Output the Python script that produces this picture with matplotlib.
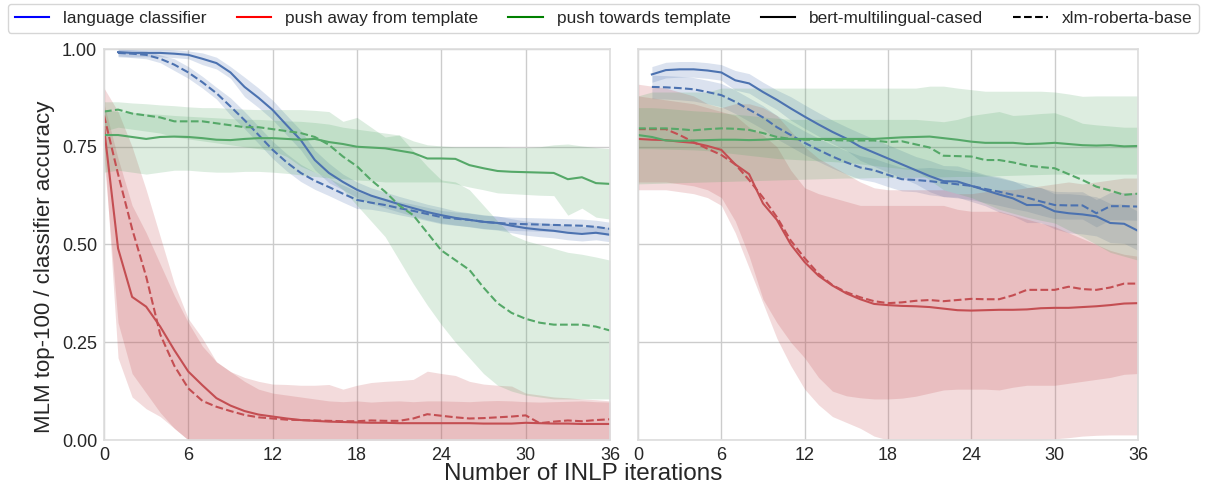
import numpy as np
import matplotlib
matplotlib.use("Agg")
import matplotlib.pyplot as plt
from matplotlib.lines import Line2D

plt.rcParams['font.family'] = ['Liberation Sans', 'DejaVu Sans']

# ---------------- data ----------------
x_all = list(range(0, 37))
x_blue = list(range(1, 37))
xticks = [0, 6, 12, 18, 24, 30, 36]
yticks = [0.0, 0.25, 0.5, 0.75, 1.0]
legend_labels = ["language classifier", "push away from template", "push towards template",
                 "bert-multilingual-cased", "xlm-roberta-base"]

# LEFT panel
L_blue_bert = [0.992, 0.99, 0.99, 0.99, 0.988, 0.985, 0.975, 0.964, 0.94, 0.903, 0.875, 0.844,
               0.805, 0.767, 0.716, 0.683, 0.66, 0.64, 0.625, 0.614, 0.603, 0.593, 0.583, 0.575,
               0.568, 0.563, 0.558, 0.555, 0.548, 0.542, 0.538, 0.535, 0.53, 0.527, 0.53, 0.525]
L_blue_bert_hw = [0.01] * 6 + [0.015] * 3 + [0.025] * 7 + [0.02] * 8 + [0.018] * 12
L_blue_xlm = [0.99, 0.988, 0.985, 0.975, 0.96, 0.94, 0.915, 0.887, 0.853, 0.818, 0.78, 0.742,
              0.71, 0.683, 0.663, 0.647, 0.63, 0.614, 0.607, 0.601, 0.593, 0.586, 0.578, 0.57,
              0.566, 0.563, 0.558, 0.555, 0.553, 0.552, 0.551, 0.55, 0.549, 0.548, 0.545, 0.54]
L_blue_xlm_hw = [0.01] * 4 + [0.015] * 4 + [0.022] * 10 + [0.017] * 18

L_green_bert = [0.78, 0.78, 0.775, 0.77, 0.775, 0.776, 0.775, 0.772, 0.768, 0.767, 0.77, 0.772,
                0.772, 0.77, 0.768, 0.77, 0.762, 0.757, 0.75, 0.748, 0.746, 0.74, 0.734, 0.72,
                0.72, 0.719, 0.703, 0.695, 0.688, 0.686, 0.685, 0.684, 0.683, 0.667, 0.672, 0.657, 0.655]
L_green_bert_lo = [0.685, 0.69, 0.685, 0.68, 0.685, 0.69, 0.69, 0.687, 0.685, 0.685, 0.687, 0.687,
                   0.685, 0.682, 0.678, 0.674, 0.67, 0.668, 0.665, 0.663, 0.66, 0.66, 0.66, 0.66,
                   0.66, 0.655, 0.647, 0.64, 0.632, 0.63, 0.628, 0.626, 0.625, 0.575, 0.593, 0.57, 0.565]
L_green_bert_hi = [0.845, 0.84, 0.838, 0.835, 0.833, 0.83, 0.828, 0.826, 0.824, 0.822, 0.82, 0.82,
                   0.818, 0.816, 0.815, 0.812, 0.808, 0.80, 0.795, 0.79, 0.785, 0.78, 0.765, 0.755,
                   0.752, 0.75, 0.75, 0.75, 0.75, 0.748, 0.748, 0.75, 0.755, 0.757, 0.752, 0.748, 0.745]
L_green_xlm = [0.84, 0.845, 0.835, 0.83, 0.825, 0.815, 0.815, 0.815, 0.81, 0.805, 0.80, 0.80,
               0.795, 0.79, 0.785, 0.775, 0.755, 0.725, 0.70, 0.665, 0.635, 0.60, 0.575, 0.53,
               0.485, 0.46, 0.435, 0.39, 0.35, 0.325, 0.31, 0.30, 0.295, 0.295, 0.295, 0.29, 0.28]
L_green_xlm_lo = [0.79, 0.80, 0.795, 0.79, 0.785, 0.775, 0.77, 0.765, 0.76, 0.755, 0.75, 0.745,
                  0.74, 0.725, 0.70, 0.685, 0.67, 0.64, 0.60, 0.56, 0.52, 0.46, 0.40, 0.345,
                  0.295, 0.25, 0.21, 0.17, 0.14, 0.125, 0.115, 0.11, 0.105, 0.105, 0.105, 0.105, 0.105]
L_green_xlm_hi = [0.865, 0.865, 0.862, 0.86, 0.857, 0.855, 0.852, 0.85, 0.85, 0.848, 0.846, 0.845,
                  0.845, 0.845, 0.845, 0.843, 0.84, 0.815, 0.825, 0.80, 0.775, 0.78, 0.74, 0.70,
                  0.665, 0.66, 0.64, 0.60, 0.56, 0.525, 0.51, 0.50, 0.49, 0.48, 0.475, 0.468, 0.46]

L_red_bert = [0.80, 0.49, 0.366, 0.341, 0.29, 0.23, 0.175, 0.14, 0.107, 0.088, 0.074, 0.065,
              0.06, 0.055, 0.051, 0.049, 0.047, 0.046, 0.045, 0.044, 0.044, 0.043, 0.043, 0.043,
              0.043, 0.043, 0.043, 0.042, 0.042, 0.042, 0.044, 0.043, 0.042, 0.042, 0.041, 0.041, 0.041]
L_red_bert_lo = [0.72, 0.30, 0.17, 0.12, 0.07, 0.03] + [0.0] * 31
L_red_bert_hi = [0.86, 0.72, 0.60, 0.53, 0.45, 0.37, 0.30, 0.24, 0.20, 0.175, 0.15, 0.13,
                 0.12, 0.115, 0.11, 0.105, 0.10, 0.098, 0.10, 0.097, 0.099, 0.10, 0.098, 0.10,
                 0.10, 0.099, 0.098, 0.10, 0.101, 0.10, 0.098, 0.097, 0.098, 0.099, 0.10, 0.098, 0.097]
L_red_xlm = [0.83, 0.68, 0.54, 0.418, 0.27, 0.19, 0.132, 0.10, 0.085, 0.074, 0.064, 0.058,
             0.055, 0.052, 0.051, 0.05, 0.049, 0.048, 0.048, 0.05, 0.049, 0.049, 0.055, 0.066,
             0.062, 0.058, 0.055, 0.056, 0.058, 0.06, 0.063, 0.043, 0.047, 0.05, 0.048, 0.051, 0.053]
L_red_xlm_lo = [0.76, 0.21, 0.11, 0.08, 0.06, 0.03] + [0.0] * 31
L_red_xlm_hi = [0.90, 0.84, 0.75, 0.64, 0.52, 0.40, 0.31, 0.26, 0.20, 0.175, 0.16, 0.15,
                0.143, 0.142, 0.14, 0.14, 0.142, 0.13, 0.14, 0.147, 0.15, 0.152, 0.155, 0.176,
                0.17, 0.165, 0.15, 0.143, 0.14, 0.138, 0.12, 0.115, 0.11, 0.108, 0.105, 0.103, 0.10]

# RIGHT panel
R_blue_bert = [0.935, 0.946, 0.948, 0.948, 0.945, 0.94, 0.92, 0.912, 0.89, 0.87, 0.848, 0.827,
               0.807, 0.788, 0.771, 0.75, 0.735, 0.72, 0.705, 0.69, 0.675, 0.662, 0.661, 0.65,
               0.639, 0.628, 0.618, 0.601, 0.601, 0.585, 0.58, 0.577, 0.572, 0.555, 0.553, 0.535]
R_blue_bert_hw = [0.02] * 6 + [0.025] * 4 + [0.03] * 5 + [0.035] * 5 + [0.04] * 5 + [0.045] * 5 + [0.05] * 6
R_blue_xlm = [0.903, 0.902, 0.90, 0.897, 0.89, 0.882, 0.865, 0.845, 0.825, 0.80, 0.78, 0.76,
              0.742, 0.725, 0.71, 0.697, 0.69, 0.678, 0.667, 0.665, 0.662, 0.658, 0.654, 0.65,
              0.642, 0.635, 0.627, 0.62, 0.61, 0.601, 0.60, 0.60, 0.58, 0.598, 0.598, 0.597]
R_blue_xlm_hw = [0.03] * 20 + [0.035] * 16

R_green_bert = [0.78, 0.775, 0.766, 0.765, 0.766, 0.767, 0.768, 0.768, 0.767, 0.768, 0.77, 0.77,
                0.77, 0.77, 0.77, 0.77, 0.77, 0.77, 0.772, 0.774, 0.775, 0.776, 0.772, 0.768,
                0.763, 0.76, 0.76, 0.76, 0.757, 0.758, 0.76, 0.757, 0.754, 0.753, 0.754, 0.751, 0.752]
R_green_bert_lo = [0.655, 0.656, 0.657, 0.658, 0.659, 0.66, 0.661, 0.662, 0.663, 0.664, 0.665, 0.666,
                   0.667, 0.668, 0.669, 0.67, 0.67, 0.671, 0.671, 0.672, 0.672, 0.673, 0.673, 0.674,
                   0.674, 0.675, 0.676, 0.677, 0.678, 0.679, 0.68, 0.68, 0.68, 0.68, 0.68, 0.68, 0.68]
R_green_bert_hi = [0.88, 0.89, 0.89, 0.89, 0.89, 0.89, 0.90, 0.90, 0.90, 0.90, 0.90, 0.90,
                   0.90, 0.90, 0.90, 0.90, 0.90, 0.90, 0.90, 0.90, 0.90, 0.905, 0.905, 0.90,
                   0.896, 0.892, 0.892, 0.892, 0.892, 0.892, 0.89, 0.885, 0.879, 0.88, 0.88, 0.88, 0.88]
R_green_xlm = [0.797, 0.797, 0.797, 0.795, 0.792, 0.795, 0.797, 0.796, 0.793, 0.785, 0.775, 0.77,
               0.768, 0.768, 0.767, 0.766, 0.766, 0.766, 0.762, 0.764, 0.756, 0.748, 0.727, 0.726,
               0.725, 0.716, 0.716, 0.71, 0.702, 0.698, 0.695, 0.68, 0.665, 0.648, 0.638, 0.627, 0.63]
R_green_xlm_lo = [0.745, 0.745, 0.744, 0.743, 0.742, 0.74, 0.736, 0.732, 0.728, 0.724, 0.72, 0.718,
                  0.716, 0.714, 0.712, 0.71, 0.706, 0.702, 0.698, 0.694, 0.69, 0.665, 0.64, 0.63,
                  0.62, 0.605, 0.59, 0.58, 0.57, 0.562, 0.555, 0.537, 0.52, 0.50, 0.48, 0.47, 0.46]
R_green_xlm_hi = [0.85, 0.85, 0.848, 0.845, 0.842, 0.84, 0.837, 0.833, 0.83, 0.826, 0.823, 0.82,
                  0.82, 0.82, 0.82, 0.82, 0.82, 0.82, 0.82, 0.82, 0.82, 0.817, 0.814, 0.82,
                  0.83, 0.835, 0.84, 0.83, 0.832, 0.835, 0.837, 0.825, 0.81, 0.806, 0.803, 0.80, 0.80]

R_red_bert = [0.77, 0.768, 0.767, 0.763, 0.76, 0.752, 0.742, 0.705, 0.68, 0.605, 0.563, 0.50,
              0.455, 0.42, 0.395, 0.375, 0.36, 0.348, 0.345, 0.343, 0.342, 0.34, 0.336, 0.332,
              0.331, 0.332, 0.333, 0.333, 0.334, 0.337, 0.338, 0.338, 0.34, 0.342, 0.345, 0.349, 0.35]
R_red_bert_lo = [0.66, 0.66, 0.66, 0.655, 0.65, 0.64, 0.62, 0.56, 0.47, 0.36, 0.30, 0.25,
                 0.21, 0.16, 0.125, 0.113, 0.108, 0.105, 0.105, 0.107, 0.112, 0.12, 0.128, 0.13,
                 0.13, 0.13, 0.128, 0.135, 0.14, 0.14, 0.14, 0.145, 0.15, 0.155, 0.16, 0.168, 0.17]
R_red_bert_hi = [0.88, 0.875, 0.87, 0.865, 0.86, 0.85, 0.84, 0.83, 0.80, 0.78, 0.75, 0.69,
                 0.645, 0.63, 0.62, 0.61, 0.60, 0.60, 0.60, 0.60, 0.60, 0.60, 0.60, 0.59,
                 0.585, 0.585, 0.585, 0.575, 0.565, 0.555, 0.546, 0.53, 0.515, 0.50, 0.485, 0.475, 0.47]
R_red_xlm = [0.795, 0.795, 0.795, 0.78, 0.762, 0.745, 0.729, 0.705, 0.665, 0.62, 0.57, 0.51,
             0.465, 0.425, 0.396, 0.378, 0.365, 0.355, 0.35, 0.352, 0.356, 0.358, 0.355, 0.358,
             0.361, 0.36, 0.36, 0.37, 0.384, 0.384, 0.384, 0.392, 0.386, 0.384, 0.39, 0.40, 0.40]
R_red_xlm_lo = [0.64, 0.64, 0.64, 0.635, 0.63, 0.62, 0.60, 0.53, 0.44, 0.35, 0.26, 0.19,
                0.13, 0.09, 0.06, 0.045, 0.03, 0.01, 0.0, 0.0, 0.0, 0.0, 0.0, 0.0,
                0.0, 0.0, 0.0, 0.0, 0.0, 0.0, 0.003, 0.006, 0.01, 0.012, 0.013, 0.013, 0.013]
R_red_xlm_hi = [0.91, 0.905, 0.90, 0.89, 0.88, 0.86, 0.85, 0.86, 0.86, 0.85, 0.83, 0.79,
                0.75, 0.72, 0.70, 0.68, 0.66, 0.645, 0.64, 0.64, 0.64, 0.64, 0.64, 0.63,
                0.63, 0.635, 0.64, 0.64, 0.645, 0.65, 0.655, 0.66, 0.655, 0.66, 0.665, 0.67, 0.67]

# ---------------- style ----------------
C_BLUE = '#4C72B0'
C_RED = '#C44E52'
C_GREEN = '#55A868'
GRID = '#cccccc'
TXT = '#262626'

fig = plt.figure(figsize=(12.07, 4.86), dpi=100)
ax1 = fig.add_axes([104 / 1207, 1 - 440 / 486, 506 / 1207, 391 / 486])
ax2 = fig.add_axes([638 / 1207, 1 - 440 / 486, 500 / 1207, 391 / 486])


def band(ax, x, lo, hi, c):
    ax.fill_between(x, lo, hi, color=c, alpha=0.2, linewidth=0)


def draw(ax, d):
    xb = np.array(x_blue)
    xa = np.array(x_all)
    band(ax, xb, np.array(d['bb']) - np.array(d['bbh']), np.array(d['bb']) + np.array(d['bbh']), C_BLUE)
    band(ax, xb, np.array(d['bx']) - np.array(d['bxh']), np.array(d['bx']) + np.array(d['bxh']), C_BLUE)
    band(ax, xa, d['rbl'], d['rbh'], C_RED)
    band(ax, xa, d['rxl'], d['rxh'], C_RED)
    band(ax, xa, d['gbl'], d['gbh'], C_GREEN)
    band(ax, xa, d['gxl'], d['gxh'], C_GREEN)
    lw = 1.5
    ax.plot(xb, d['bb'], color=C_BLUE, lw=lw)
    ax.plot(xb, d['bx'], color=C_BLUE, lw=lw, ls='--')
    ax.plot(xa, d['rb'], color=C_RED, lw=lw)
    ax.plot(xa, d['rx'], color=C_RED, lw=lw, ls='--')
    ax.plot(xa, d['gb'], color=C_GREEN, lw=lw)
    ax.plot(xa, d['gx'], color=C_GREEN, lw=lw, ls='--')


draw(ax1, dict(bb=L_blue_bert, bbh=L_blue_bert_hw, bx=L_blue_xlm, bxh=L_blue_xlm_hw,
               rb=L_red_bert, rbl=L_red_bert_lo, rbh=L_red_bert_hi,
               rx=L_red_xlm, rxl=L_red_xlm_lo, rxh=L_red_xlm_hi,
               gb=L_green_bert, gbl=L_green_bert_lo, gbh=L_green_bert_hi,
               gx=L_green_xlm, gxl=L_green_xlm_lo, gxh=L_green_xlm_hi))
draw(ax2, dict(bb=R_blue_bert, bbh=R_blue_bert_hw, bx=R_blue_xlm, bxh=R_blue_xlm_hw,
               rb=R_red_bert, rbl=R_red_bert_lo, rbh=R_red_bert_hi,
               rx=R_red_xlm, rxl=R_red_xlm_lo, rxh=R_red_xlm_hi,
               gb=R_green_bert, gbl=R_green_bert_lo, gbh=R_green_bert_hi,
               gx=R_green_xlm, gxl=R_green_xlm_lo, gxh=R_green_xlm_hi))

for ax in (ax1, ax2):
    ax.set_xlim(0, 36)
    ax.set_ylim(0, 1)
    ax.set_xticks(xticks)
    ax.set_yticks(yticks)
    ax.grid(True, color=GRID, lw=1)
    ax.set_axisbelow(True)
    for s in ax.spines.values():
        s.set_color('#dddddd')
        s.set_linewidth(1.2)
    ax.tick_params(length=0, labelsize=13, colors=TXT, pad=5)

ax1.set_yticklabels([f"{v:.2f}" for v in yticks])
ax2.set_yticklabels([])

fig.text(0.037, 1 - 267 / 486, "MLM top-100 / classifier accuracy", rotation=90,
         ha='center', va='center', fontsize=16, color=TXT)
fig.text(583 / 1207, 1 - 474 / 486, "Number of INLP iterations", ha='center', va='center',
         fontsize=17.5, color=TXT)

handles = [Line2D([], [], color='blue', lw=1.5),
           Line2D([], [], color='red', lw=1.5),
           Line2D([], [], color='green', lw=1.5),
           Line2D([], [], color='black', lw=1.5),
           Line2D([], [], color='black', lw=1.5, ls='--')]
leg = fig.legend(handles, legend_labels, loc='upper left', ncol=5, mode='expand',
                 bbox_to_anchor=(8 / 1207, 0, 1191 / 1207, 1 - 4 / 486),
                 fontsize=12.4, frameon=True, fancybox=True, borderaxespad=0)
leg.get_frame().set_edgecolor('#cccccc')
for t in leg.get_texts():
    t.set_color(TXT)

fig.savefig("out.png", dpi=100)
